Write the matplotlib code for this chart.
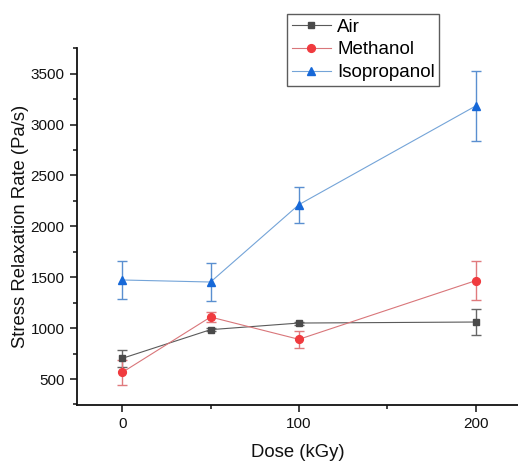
import matplotlib
matplotlib.use("Agg")
import matplotlib.pyplot as plt
from matplotlib.ticker import MultipleLocator

plt.rcParams['font.family'] = ['Liberation Sans', 'DejaVu Sans']

dose = [0, 50, 100, 200]
air = [703, 985, 1050, 1060]
air_err = [80, 15, 15, 125]
methanol = [565, 1109, 890, 1466]
methanol_err = [125, 50, 83, 190]
isopropanol = [1473, 1453, 2213, 3182]
isopropanol_err = [190, 190, 178, 340]

fig = plt.figure(figsize=(5.18, 4.61), dpi=100)
ax = fig.add_axes([0.1486, 0.1215, 0.8514, 0.7744])

series = [
    ("Air", air, air_err, 's', '#4a4a4a', '#5a5a5a', '#666666', 4.6),
    ("Methanol", methanol, methanol_err, 'o', '#f03a3e', '#d9767a', '#e07a7d', 5.6),
    ("Isopropanol", isopropanol, isopropanol_err, '^', '#1668d8', '#74a4d8', '#5a8fd0', 5.8),
]
for name, y, e, m, mc, lc, ec, ms in series:
    ax.errorbar(dose, y, yerr=e, fmt='none', ecolor=ec, elinewidth=1.0,
                capsize=3.5, capthick=1.0, zorder=2)
    ax.plot(dose, y, color=lc, lw=0.8, marker=m, markersize=ms,
            markerfacecolor=mc, markeredgecolor=mc, label=name, zorder=3)

ax.set_xlim(-25.6, 224)
ax.set_ylim(245, 3752)
ax.xaxis.set_major_locator(MultipleLocator(100))
ax.xaxis.set_minor_locator(MultipleLocator(50))
ax.yaxis.set_major_locator(MultipleLocator(500))
ax.yaxis.set_minor_locator(MultipleLocator(250))
ax.spines['top'].set_visible(False)
ax.spines['right'].set_visible(False)
for s in ('left', 'bottom'):
    ax.spines[s].set_linewidth(1.3)
    ax.spines[s].set_color('#111111')
ax.tick_params(which='major', direction='out', length=5, width=1.1, labelsize=11,
               colors='#111111', pad=4)
ax.tick_params(which='minor', direction='out', length=3, width=1.1, colors='#111111')
ax.set_xticks([0, 100, 200])
ax.set_xticklabels(['0', '100', '200'])

ax.set_xlabel('Dose (kGy)', fontsize=13.3, labelpad=9, color='#111111')
ax.set_ylabel('Stress Relaxation Rate (Pa/s)', fontsize=13.3, labelpad=1, color='#111111')

leg = ax.legend(loc='upper left', bbox_to_anchor=(0.554, 0.97),
                bbox_transform=fig.transFigure, borderaxespad=0, fontsize=13.5,
                frameon=True, fancybox=False, edgecolor='#333333',
                handlelength=2.1, handletextpad=0.32, labelspacing=0.3,
                borderpad=0.25)
leg.get_frame().set_linewidth(1.0)

fig.savefig('out.png', dpi=100)
